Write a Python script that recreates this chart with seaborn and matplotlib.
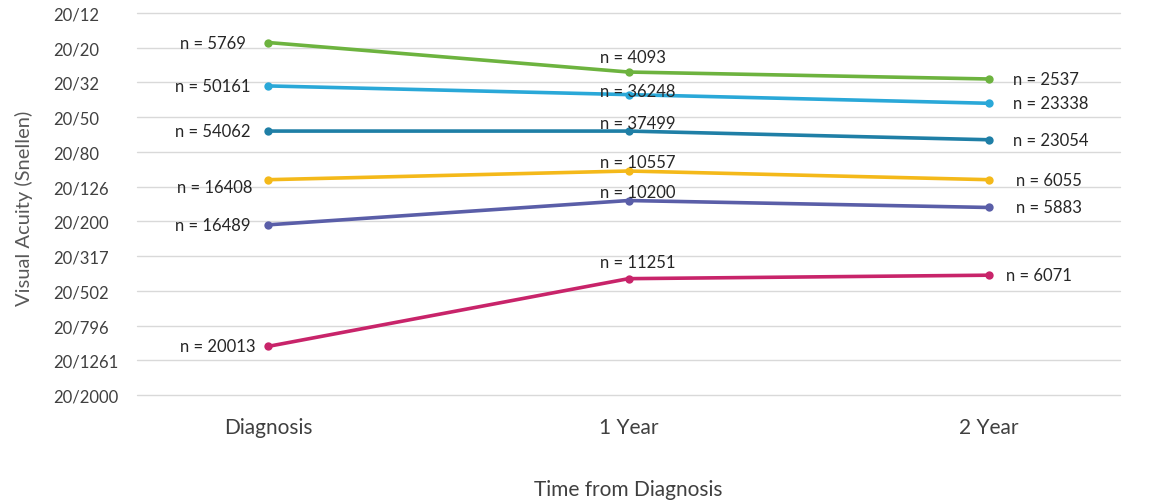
import seaborn as sns
import matplotlib.pyplot as plt
import pandas as pd

sns.set_theme(style="white")
plt.rcParams['font.family'] = ['Lato', 'DejaVu Sans']

### data (logMAR, Snellen labels on the axis)
timepoints = ['Diagnosis', '1 Year', '2 Year']
snellen_labels = ['20/12', '20/20', '20/32', '20/50', '20/80', '20/126', '20/200',
                  '20/317', '20/502', '20/796', '20/1261', '20/2000']
snellen_logmar = [-0.2, 0.0, 0.2, 0.4, 0.6, 0.8, 1.0, 1.2, 1.4, 1.6, 1.8, 2.0]

green_va = [-0.03, 0.14, 0.18]
cyan_va = [0.22, 0.27, 0.32]
teal_va = [0.48, 0.48, 0.53]
yellow_va = [0.76, 0.71, 0.76]
purple_va = [1.02, 0.88, 0.92]
magenta_va = [1.72, 1.33, 1.31]

green_n = [5769, 4093, 2537]
cyan_n = [50161, 36248, 23338]
teal_n = [54062, 37499, 23054]
yellow_n = [16408, 10557, 6055]
purple_n = [16489, 10200, 5883]
magenta_n = [20013, 11251, 6071]

series = ['green', 'cyan', 'teal', 'yellow', 'purple', 'magenta']
values = [green_va, cyan_va, teal_va, yellow_va, purple_va, magenta_va]
counts = [green_n, cyan_n, teal_n, yellow_n, purple_n, magenta_n]
colors = ['#6db33f', '#2aa8d8', '#1f7fa6', '#f4b91a', '#5a5ea8', '#c8246a']

# label offsets in pixels (dx, dy) for each point of each series
offsets = {
    'green':   [(-22, 0), (-28, 15), (24, 0)],
    'cyan':    [(-18, 0), (-28, 4), (24, 0)],
    'teal':    [(-18, 0), (-28, 8), (24, 0)],
    'yellow':  [(-16, -7), (-28, 9), (27, 0)],
    'purple':  [(-18, 0), (-28, 9), (27, 0)],
    'magenta': [(-13, 0), (-28, 17), (17, 0)],
}

rows = []
for s, v in zip(series, values):
    for t, y in zip(timepoints, v):
        rows.append({'Time': t, 'VA': y, 'group': s})
df = pd.DataFrame(rows)

fig = plt.figure(figsize=(11.58, 5.02), dpi=100)
ax = fig.add_axes([137/1158, 1-396/502, (1120-137)/1158, (396-14)/502])

sns.lineplot(data=df, x='Time', y='VA', hue='group', palette=dict(zip(series, colors)),
             marker='o', markersize=6, markeredgewidth=0, linewidth=2.6, sort=False,
             legend=False, ax=ax)

for s, v, n in zip(series, values, counts):
    for i, (y, cnt) in enumerate(zip(v, n)):
        dx, dy = offsets[s][i]
        ha = 'right' if i == 0 else 'left'
        ax.annotate(f'n = {cnt}', xy=(i, y), xytext=(dx, dy), textcoords='offset pixels',
                    ha=ha, va='center', fontsize=12, color='#262626')

ax.set_xlim(-0.364, 2.364)
ax.set_ylim(2.0, -0.2)
ax.set_yticks(snellen_logmar)
ax.set_yticklabels(snellen_labels)
ax.set_xticks(range(len(timepoints)))
ax.set_xticklabels(timepoints)
ax.yaxis.grid(True, color='#d9d9d9', linewidth=1)
ax.xaxis.grid(False)
for gl in ax.get_ygridlines():
    gl.set_clip_on(False)
sns.despine(ax=ax, left=True, bottom=True)
ax.tick_params(axis='y', length=0, pad=60, labelsize=12, labelcolor='#404040')
for lbl in ax.get_yticklabels():
    lbl.set_ha('left')
ax.tick_params(axis='x', length=0, pad=16, labelsize=15, labelcolor='#404040')

ax.set_xlabel('Time from Diagnosis', fontsize=15, color='#404040', labelpad=30)
ax.set_ylabel('Visual Acuity (Snellen)', fontsize=14.5, color='#595959')
ax.yaxis.set_label_coords(-0.106, 0.49)

fig.savefig('out.png', dpi=100)
